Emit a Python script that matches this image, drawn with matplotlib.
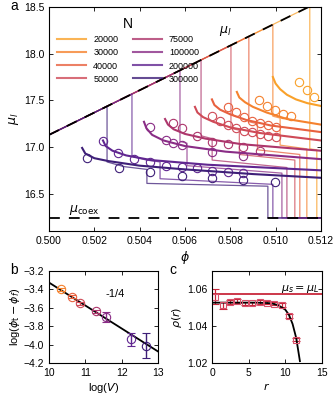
import numpy as np
import matplotlib.pyplot as plt
from matplotlib.lines import Line2D

plt.rcParams['font.family'] = ['Liberation Sans', 'DejaVu Sans']
plt.rcParams['mathtext.fontset'] = 'dejavusans'
plt.rcParams['font.size'] = 7.5

# ---- panel a data ----
N_labels = ['20000', '30000', '40000', '50000', '75000', '100000', '200000', '300000']
colors = ['#f9a12a', '#f5822e', '#e8613f', '#cf4a57', '#ad366c', '#8a2d86', '#602690', '#3e1f78']

mul_phi = [0.500, 0.5115]
mul_mu = [17.13, 18.505]
mu_coex = 16.24

# thick curves (one list per N)
curve_phi = [
    [0.50988, 0.51000, 0.51020, 0.51050, 0.51090, 0.51140, 0.51200],
    [0.50829, 0.50840, 0.50865, 0.50900, 0.50960, 0.51050, 0.51200],
    [0.50719, 0.50730, 0.50755, 0.50800, 0.50870, 0.50980, 0.51200],
    [0.50644, 0.50655, 0.50680, 0.50725, 0.50800, 0.50930, 0.51200],
    [0.50512, 0.50525, 0.50550, 0.50600, 0.50690, 0.50850, 0.51200],
    [0.50419, 0.50430, 0.50455, 0.50505, 0.50600, 0.50780, 0.51200],
    [0.50238, 0.50250, 0.50280, 0.50340, 0.50450, 0.50700, 0.51200],
    [0.50146, 0.50160, 0.50200, 0.50260, 0.50400, 0.50600, 0.50900, 0.51200],
]
curve_mu = [
    [17.75, 17.68, 17.62, 17.56, 17.51, 17.47, 17.44],
    [17.59, 17.53, 17.48, 17.43, 17.37, 17.30, 17.24],
    [17.51, 17.45, 17.40, 17.35, 17.29, 17.23, 17.16],
    [17.43, 17.37, 17.32, 17.27, 17.21, 17.15, 17.07],
    [17.30, 17.24, 17.19, 17.14, 17.09, 17.03, 16.96],
    [17.27, 17.20, 17.13, 17.07, 17.01, 16.95, 16.87],
    [17.07, 17.01, 16.96, 16.91, 16.86, 16.81, 16.75],
    [16.99, 16.93, 16.88, 16.85, 16.80, 16.76, 16.71, 16.67],
]

# thin lines (liquid branch -> jump -> plateau -> coexistence)
thin_phi = [
    [0.500, 0.51151, 0.51151, 0.51182, 0.51182, 0.512],
    [0.500, 0.50988, 0.50988, 0.51020, 0.51020, 0.51138, 0.51138, 0.512],
    [0.500, 0.50882, 0.50882, 0.50920, 0.50920, 0.51107, 0.51107, 0.512],
    [0.500, 0.50803, 0.50803, 0.50840, 0.50840, 0.51085, 0.51085, 0.512],
    [0.500, 0.50671, 0.50671, 0.50720, 0.50720, 0.51050, 0.51050, 0.512],
    [0.500, 0.50578, 0.50578, 0.50609, 0.50609, 0.51028, 0.51028, 0.512],
    [0.500, 0.50366, 0.50366, 0.50430, 0.50490, 0.50490, 0.50988, 0.50988, 0.512],
    [0.500, 0.50256, 0.50256, 0.50330, 0.50432, 0.50432, 0.50966, 0.50966, 0.512],
]
thin_mu = [
    [17.13, 18.507, 16.98, 16.97, 16.24, 16.24],
    [17.13, 18.312, 17.33, 17.31, 17.02, 16.98, 16.24, 16.24],
    [17.13, 18.185, 17.27, 17.25, 16.97, 16.92, 16.24, 16.24],
    [17.13, 18.090, 17.20, 17.18, 16.92, 16.86, 16.24, 16.24],
    [17.13, 17.933, 17.12, 17.09, 16.86, 16.78, 16.24, 16.24],
    [17.13, 17.821, 17.06, 17.04, 16.80, 16.72, 16.24, 16.24],
    [17.13, 17.568, 16.90, 16.86, 16.84, 16.66, 16.60, 16.24, 16.24],
    [17.13, 17.436, 16.84, 16.79, 16.76, 16.61, 16.58, 16.24, 16.24],
]

# simulation points
circ_phi = [
    [0.51103, 0.51138, 0.51169],
    [0.50926, 0.50962, 0.50997, 0.51032, 0.51068],
    [0.50790, 0.50825, 0.50860, 0.50896, 0.50931, 0.50966, 0.51001],
    [0.50719, 0.50755, 0.50790, 0.50825, 0.50860, 0.50896, 0.50931, 0.50966, 0.51001],
    [0.50547, 0.50587, 0.50653, 0.50719, 0.50790, 0.50856, 0.50931],
    [0.50446, 0.50516, 0.50547, 0.50587, 0.50719, 0.50856],
    [0.50238, 0.50304, 0.50375, 0.50446, 0.50516, 0.50587, 0.50653, 0.50719, 0.50790, 0.50856],
    [0.50168, 0.50309, 0.50446, 0.50587, 0.50719, 0.50856, 0.50997],
]
circ_mu = [
    [17.70, 17.61, 17.54],
    [17.50, 17.44, 17.40, 17.35, 17.33],
    [17.43, 17.37, 17.32, 17.28, 17.26, 17.24, 17.21],
    [17.33, 17.28, 17.24, 17.20, 17.17, 17.16, 17.14, 17.12, 17.11],
    [17.26, 17.20, 17.12, 17.05, 17.03, 17.00, 16.96],
    [17.21, 17.07, 17.04, 17.02, 16.95, 16.90],
    [17.06, 16.94, 16.87, 16.84, 16.80, 16.79, 16.78, 16.74, 16.73, 16.72],
    [16.88, 16.78, 16.73, 16.69, 16.67, 16.65, 16.63],
]

# ---- panel b data ----
b_logV = [10.34, 10.64, 10.84, 11.28, 11.56, 12.27, 12.68]
b_logdphi = [-3.40, -3.48, -3.55, -3.64, -3.70, -3.94, -4.01]
b_err = [0.015, 0.015, 0.015, 0.02, 0.05, 0.07, 0.14]
b_color_idx = [1, 2, 3, 4, 5, 6, 7]
b_fit_x = [10.0, 13.0]
b_fit_y = [-3.326, -4.074]

# ---- panel c data ----
c_r = [0.4, 1.5, 2.5, 3.4, 4.5, 5.5, 6.5, 7.5, 8.5, 9.5, 10.5, 11.5]
c_rho = [1.0560, 1.0514, 1.0530, 1.0536, 1.0524, 1.0524, 1.0533, 1.0528, 1.0523, 1.0514, 1.0457, 1.0327]
c_err = [0.004, 0.002, 0.001, 0.001, 0.001, 0.001, 0.001, 0.001, 0.001, 0.001, 0.001, 0.001]
c_fit_r = [0.0, 6.0, 8.0, 9.0, 10.0, 10.5, 11.0, 11.5, 12.0]
c_fit_rho = [1.0528, 1.0528, 1.0525, 1.0515, 1.0490, 1.0462, 1.0412, 1.0335, 1.0210]
c_mu_level = 1.0577

fig = plt.figure(figsize=(3.36, 4.0), dpi=100)

# ---------------- panel a ----------------
ax = fig.add_axes([0.146, 0.4225, 0.809, 0.56])
for i in range(len(N_labels)):
    ax.plot(thin_phi[i], thin_mu[i], color=colors[i], lw=0.9, alpha=0.75)
for i in range(len(N_labels)):
    ax.plot(curve_phi[i], curve_mu[i], color=colors[i], lw=1.5)
    ax.plot(circ_phi[i], circ_mu[i], 'o', ms=6, mfc='none', mec=colors[i], mew=0.8)
ax.plot(mul_phi, mul_mu, color='k', lw=1.3, ls=(0, (6, 5)))
ax.axhline(mu_coex, color='k', lw=1.3, ls=(0, (6, 5)))
ax.text(0.5075, 18.22, r'$\mu_l$', fontsize=9)
ax.text(0.5009, 16.30, r'$\mu_{\rm coex}$', fontsize=9)
ax.set_xlim(0.500, 0.512)
ax.set_ylim(16.1, 18.5)
ax.set_xticks([0.500, 0.502, 0.504, 0.506, 0.508, 0.510, 0.512])
ax.set_xticklabels(['0.500', '0.502', '0.504', '0.506', '0.508', '0.510', '0.512'])
ax.set_yticks([16.5, 17.0, 17.5, 18.0, 18.5])
ax.set_xlabel(r'$\phi$', fontsize=9, labelpad=2)
ax.set_ylabel(r'$\mu_l$', fontsize=9, labelpad=2)
ax.tick_params(direction='in', top=True, right=True, length=3, width=0.6)
handles = [Line2D([], [], color=c, lw=1.5, alpha=0.8) for c in colors]
ax.legend(handles, N_labels, title='N', ncol=2, frameon=False, loc='upper left',
          bbox_to_anchor=(0.0, 0.99), fontsize=6.5, title_fontsize=10,
          handlelength=3.2, columnspacing=1.6, labelspacing=0.45)
fig.text(0.03, 0.975, 'a', fontsize=10)

# ---------------- panel b ----------------
axb = fig.add_axes([0.146, 0.0925, 0.324, 0.23])
axb.plot(b_fit_x, b_fit_y, color='k', lw=1.3)
for x, y, e, ci in zip(b_logV, b_logdphi, b_err, b_color_idx):
    axb.errorbar(x, y, yerr=e, fmt='o', ms=6, mfc='none', mec=colors[ci],
                 ecolor=colors[ci], mew=0.8, elinewidth=1.0, capsize=3)
axb.text(11.55, -3.48, '-1/4', fontsize=8)
axb.set_xlim(10, 13)
axb.set_ylim(-4.2, -3.2)
axb.set_xticks([10, 11, 12, 13])
axb.set_yticks([-4.2, -4.0, -3.8, -3.6, -3.4, -3.2])
axb.set_yticklabels(['\u22124.2', '\u22124.0', '\u22123.8', '\u22123.6', '\u22123.4', '\u22123.2'])
axb.set_xlabel(r'log($V$)', fontsize=8, labelpad=2)
axb.set_ylabel(r'log($\phi_{\rm t}-\phi_f$)', fontsize=8, labelpad=1)
axb.tick_params(direction='in', top=True, right=True, length=3, width=0.6)
fig.text(0.03, 0.315, 'b', fontsize=10)

# ---------------- panel c ----------------
axc = fig.add_axes([0.631, 0.0925, 0.327, 0.23])
axc.axhline(c_mu_level, color='#c8283c', lw=1.3)
axc.errorbar(c_r, c_rho, yerr=c_err, fmt='s', ms=5, mfc='none', mec='#d8506a',
             ecolor='#c8283c', mew=0.8, elinewidth=0.9, capsize=3)
axc.plot(c_fit_r, c_fit_rho, color='k', lw=1.3)
axc.text(14.6, 1.0590, r'$\mu_s=\mu_L$', fontsize=8, ha='right')
axc.set_xlim(0, 15)
axc.set_ylim(1.02, 1.07)
axc.set_xticks([0, 5, 10, 15])
axc.set_yticks([1.02, 1.04, 1.06])
axc.set_xlabel(r'$r$', fontsize=8, labelpad=2)
axc.set_ylabel(r'$\rho(r)$', fontsize=8, labelpad=2)
axc.tick_params(direction='in', top=True, right=True, length=3, width=0.6)
fig.text(0.505, 0.315, 'c', fontsize=10)

fig.savefig('out.png', dpi=100)
